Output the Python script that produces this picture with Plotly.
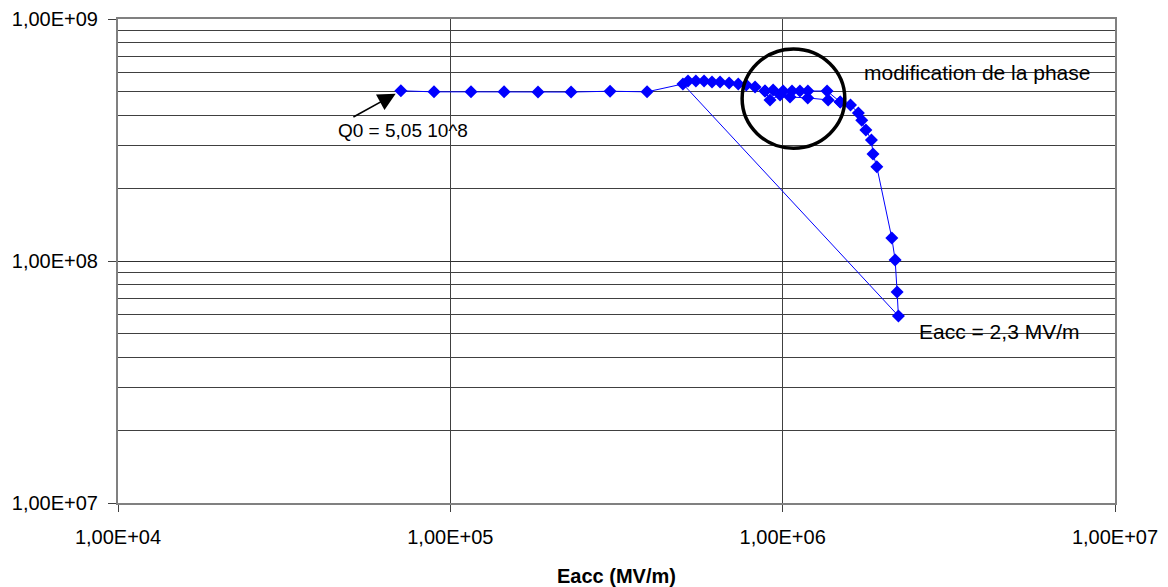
import numpy as np
import plotly.graph_objects as go

# Main sweep (Eacc, Q0)
eacc_main = [7.1e4, 8.93e4, 1.154e5, 1.451e5, 1.836e5, 2.308e5, 3.024e5, 3.908e5,
             5.01e5, 2.23e6, 2.21e6, 2.18e6, 2.13e6, 1.92e6, 1.87e6, 1.85e6, 1.78e6,
             1.73e6, 1.69e6, 1.60e6, 1.49e6, 1.36e6, 1.191e6, 1.127e6, 1.067e6,
             1.003e6, 9.36e5, 8.85e5, 8.26e5, 7.77e5, 7.35e5, 6.90e5, 6.48e5,
             6.13e5, 5.80e5, 5.48e5, 5.19e5]
q0_main = [5.05e8, 5.0e8, 5.0e8, 5.0e8, 4.99e8, 4.99e8, 5.03e8, 5.0e8,
           5.39e8, 5.93e7, 7.45e7, 1.01e8, 1.245e8, 2.45e8, 2.77e8, 3.16e8, 3.48e8,
           3.82e8, 4.09e8, 4.41e8, 4.54e8, 5.04e8, 5.04e8, 5.04e8, 5.04e8,
           5.04e8, 5.09e8, 5.04e8, 5.24e8, 5.34e8, 5.39e8, 5.44e8, 5.49e8,
           5.49e8, 5.54e8, 5.54e8, 5.54e8]

# Second branch in the phase-modification zone
eacc_branch = [8.85e5, 9.16e5, 9.82e5, 1.052e6, 1.19e6, 1.37e6, 1.49e6]
q0_branch = [5.04e8, 4.63e8, 4.85e8, 4.76e8, 4.72e8, 4.63e8, 4.54e8]

x_tickvals = [1e4, 1e5, 1e6, 1e7]
x_ticktext = ["1,00E+04", "1,00E+05", "1,00E+06", "1,00E+07"]
y_tickvals = [1e7, 1e8, 1e9]
y_ticktext = ["1,00E+07", "1,00E+08", "1,00E+09"]
y_minor = [m * 10 ** e for e in (7, 8) for m in range(2, 10)]

FONT = "Liberation Sans, Arial, sans-serif"
BLUE = "#0000FF"

fig = go.Figure()
for xs, ys in ((eacc_main, q0_main), (eacc_branch, q0_branch)):
    fig.add_trace(go.Scatter(
        x=xs, y=ys, mode="lines+markers",
        line=dict(color=BLUE, width=1),
        marker=dict(symbol="diamond", size=10, color=BLUE),
        showlegend=False, hoverinfo="x+y"))

fig.update_layout(
    width=1168, height=587,
    margin=dict(l=118, r=53, t=19, b=84),
    paper_bgcolor="white", plot_bgcolor="white",
    font=dict(family=FONT, size=20, color="black"),
    xaxis=dict(type="log", range=[4, 7], tickvals=x_tickvals, ticktext=x_ticktext,
               showgrid=True, gridcolor="#404040", gridwidth=1,
               ticks="outside", ticklen=7, tickcolor="#404040",
               ticklabelstandoff=8, automargin=False,
               showline=True, linecolor="#808080", linewidth=2, mirror=True,
               zeroline=False),
    yaxis=dict(type="log", range=[7, 9], tickvals=y_tickvals, ticktext=y_ticktext,
               showgrid=True, gridcolor="#303030", gridwidth=1,
               ticks="outside", ticklen=8, tickcolor="#404040",
               ticklabelstandoff=6, automargin=False,
               minor=dict(tickmode="array", tickvals=y_minor, showgrid=True,
                          gridcolor="#404040", gridwidth=1, ticks=""),
               showline=True, linecolor="#808080", linewidth=2, mirror=True,
               zeroline=False),
)

# x axis title
fig.add_annotation(x=0.5, y=-0.1508, xref="paper", yref="paper",
                   xanchor="center", yanchor="middle", text="<b>Eacc (MV/m)</b>",
                   showarrow=False, font=dict(size=20))

# circle around the phase modification zone
fig.add_shape(type="circle", xref="paper", yref="paper",
              x0=0.626, x1=0.729, y0=0.733, y1=0.938,
              line=dict(color="black", width=3.5))

# arrow to Q0
fig.add_annotation(x=np.log10(eacc_main[0]), y=np.log10(q0_main[0]), xref="x", yref="y",
                   text="", showarrow=True, ax=-49, ay=27, arrowhead=2, arrowsize=2.2,
                   arrowwidth=1.6, arrowcolor="black", standoff=6)
fig.add_annotation(x=0.219, y=0.769, xref="paper", yref="paper", xanchor="left",
                   yanchor="middle", text="Q0 = 5,05 10^8", showarrow=False,
                   font=dict(size=19))
fig.add_annotation(x=0.746, y=0.890, xref="paper", yref="paper", xanchor="left",
                   yanchor="middle", text="modification de la phase", showarrow=False,
                   font=dict(size=21))
fig.add_annotation(x=0.801, y=0.355, xref="paper", yref="paper", xanchor="left",
                   yanchor="middle", text="Eacc = 2,3 MV/m", showarrow=False,
                   font=dict(size=21))

fig.write_html("out.html")
